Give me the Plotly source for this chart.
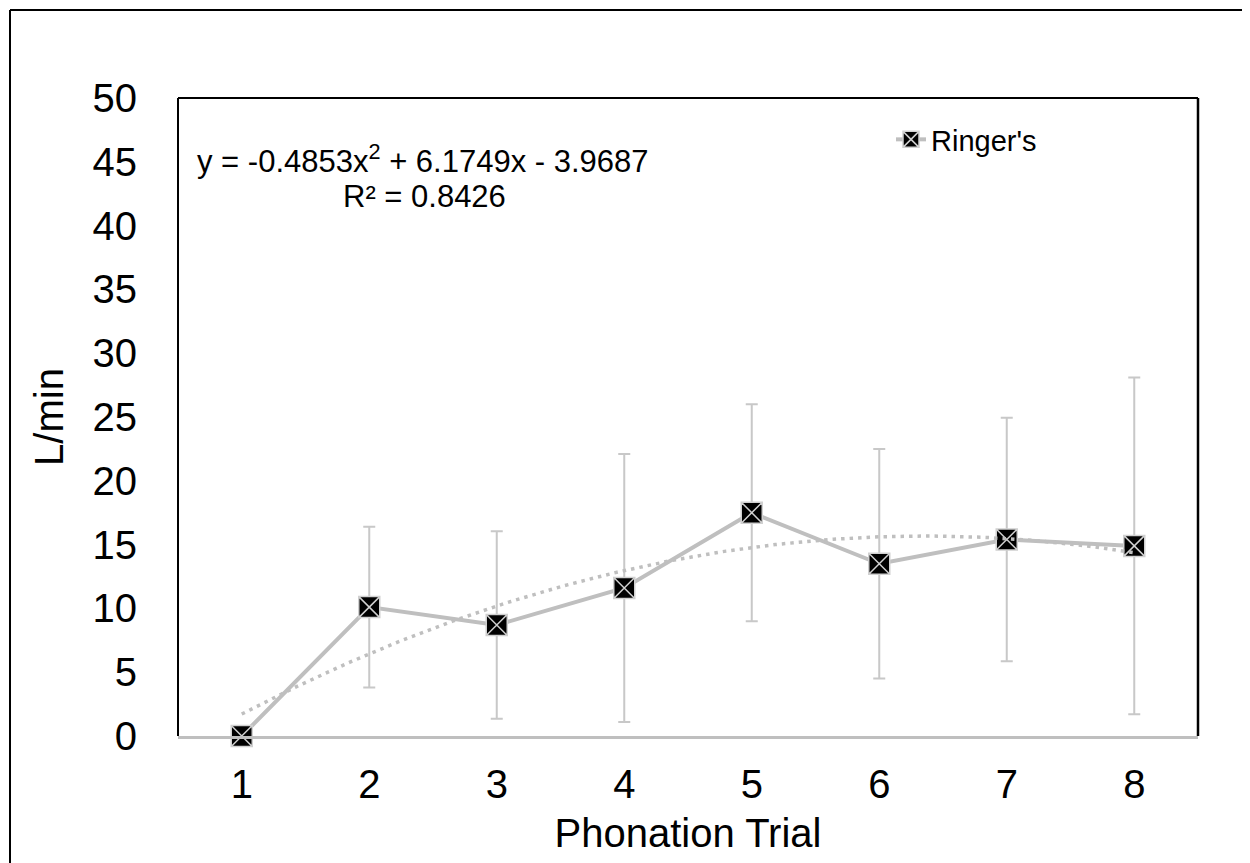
import numpy as np
import plotly.graph_objects as go

# ---- data ----
trials = [1, 2, 3, 4, 5, 6, 7, 8]
ringers_mean = [0.0, 10.1, 8.7, 11.6, 17.5, 13.5, 15.4, 14.9]
ringers_err = [0.0, 6.3, 7.35, 10.5, 8.5, 9.0, 9.55, 13.2]
trend_coef = [-0.4853, 6.1749, -3.9687]  # quadratic trendline shown on chart
y_ticks = [0, 5, 10, 15, 20, 25, 30, 35, 40, 45, 50]
x_ticks = [1, 2, 3, 4, 5, 6, 7, 8]
eq_line1 = "y = -0.4853x<sup>2</sup> + 6.1749x - 3.9687"
eq_line2 = "R² = 0.8426"

OFF = 8  # page body margin
W, H = 1242, 855
L, R, T, B = 170, 52, 90, 127
PW, PH = W - L - R, H - T - B


def sx(x):  # screen pixel -> paper x
    return (x - OFF - L) / PW


def sy(y):  # screen pixel -> paper y
    return (H - B - (y - OFF)) / PH


FONT = "Arial, Liberation Sans, sans-serif"
GRAY = "#bfbfbf"

fig = go.Figure()

fig.add_trace(go.Scatter(
    x=trials, y=ringers_mean, name="Ringer's", mode="lines+markers",
    cliponaxis=False,
    line=dict(color=GRAY, width=4),
    marker=dict(symbol="square-x", size=21, color="black",
                line=dict(color="#d0d0d0", width=1.5)),
    error_y=dict(type="data", array=ringers_err, visible=True,
                 color="#c8c8c8", thickness=2, width=6),
))

tx = np.linspace(trials[0], trials[-1], 200)
ty = np.polyval(trend_coef, tx)
fig.add_trace(go.Scatter(
    x=tx, y=ty, mode="lines", showlegend=False, hoverinfo="skip",
    line=dict(color=GRAY, width=3.5, dash="3.5px,5px"),
))

# frame of plot area (left, top, right black)
fig.add_shape(type="line", xref="paper", yref="paper", x0=0, x1=0, y0=0, y1=1,
              line=dict(color="black", width=2))
fig.add_shape(type="line", xref="paper", yref="paper", x0=0, x1=1, y0=1, y1=1,
              line=dict(color="black", width=2))
fig.add_shape(type="line", xref="paper", yref="paper", x0=1, x1=1, y0=0, y1=1,
              line=dict(color="black", width=2.5))
# outer chart border (left, top)
fig.add_shape(type="line", xref="paper", yref="paper", x0=sx(10), x1=sx(10),
              y0=sy(10), y1=sy(H + 40), line=dict(color="black", width=2))
fig.add_shape(type="line", xref="paper", yref="paper", x0=sx(10), x1=sx(W + 40),
              y0=sy(10), y1=sy(10), line=dict(color="black", width=2))

fig.add_annotation(xref="paper", yref="paper", x=sx(423), y=sy(159),
                   text=eq_line1, showarrow=False, xanchor="center", yanchor="middle",
                   font=dict(family=FONT, size=31, color="black"))
fig.add_annotation(xref="paper", yref="paper", x=sx(424), y=sy(196),
                   text=eq_line2, showarrow=False, xanchor="center", yanchor="middle",
                   font=dict(family=FONT, size=31, color="black"))

fig.update_layout(
    width=W, height=H,
    margin=dict(l=L, r=R, t=T, b=B, autoexpand=False),
    paper_bgcolor="white", plot_bgcolor="white",
    font=dict(family=FONT, color="black"),
    showlegend=True,
    legend=dict(x=sx(891), y=sy(114), xanchor="left", yanchor="top",
                bgcolor="rgba(0,0,0,0)", font=dict(family=FONT, size=29),
                itemsizing="trace"),
    xaxis=dict(range=[0.5, 8.5], tickvals=x_ticks, ticktext=[str(v) for v in x_ticks],
               showgrid=False, zeroline=False, showline=True, linecolor=GRAY,
               linewidth=2.5, ticks="", ticklabelstandoff=11,
               tickfont=dict(size=40),
               title=dict(text="Phonation Trial", font=dict(size=40), standoff=15)),
    yaxis=dict(range=[0, 50], tickvals=y_ticks, showgrid=False, zeroline=False,
               showline=False, ticks="", ticklabelstandoff=40,
               tickfont=dict(size=40),
               title=dict(text="L/min", font=dict(size=40), standoff=16)),
)

fig.write_html("out.html")
